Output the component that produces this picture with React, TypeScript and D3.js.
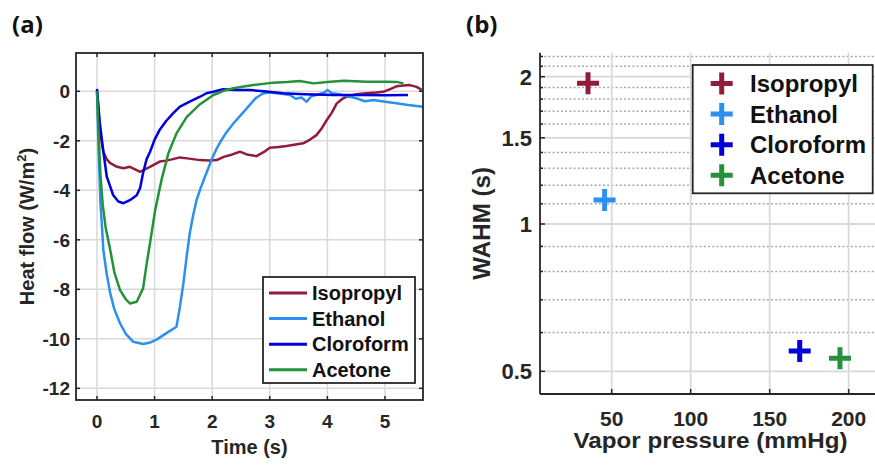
import React from "react";
import * as d3 from "d3";

// ---------- Panel (a) data ----------
const seriesNames = ["Isopropyl", "Ethanol", "Cloroform", "Acetone"];
const seriesColors = ["#8f1d3a", "#2b90f0", "#0000dd", "#23923a"];

const isoT = [0, 0.05, 0.11, 0.17, 0.23, 0.35, 0.46, 0.57, 0.66, 0.75, 0.83, 0.92, 1.0, 1.09, 1.2, 1.3, 1.44, 1.6, 1.79, 1.95, 2.08, 2.2, 2.35, 2.48, 2.6, 2.77, 2.9, 3.0, 3.15, 3.29, 3.45, 3.58, 3.7, 3.81, 3.9, 3.99, 4.08, 4.16, 4.25, 4.34, 4.5, 4.68, 4.85, 4.97, 5.1, 5.2, 5.32, 5.43, 5.55, 5.64];
const isoV = [0, -1.6, -2.44, -2.75, -2.9, -3.05, -3.11, -3.05, -3.15, -3.25, -3.15, -3.05, -2.95, -2.84, -2.8, -2.75, -2.67, -2.72, -2.78, -2.8, -2.78, -2.65, -2.55, -2.44, -2.55, -2.62, -2.45, -2.28, -2.25, -2.21, -2.15, -2.1, -1.95, -1.77, -1.5, -1.16, -0.85, -0.5, -0.32, -0.22, -0.12, -0.08, -0.05, -0.02, 0.1, 0.2, 0.23, 0.25, 0.18, 0.05];

const ethT = [0, 0.03, 0.06, 0.09, 0.11, 0.17, 0.23, 0.3, 0.4, 0.5, 0.63, 0.8, 0.92, 1.04, 1.2, 1.38, 1.44, 1.5, 1.55, 1.61, 1.67, 1.73, 1.8, 1.9, 2.0, 2.08, 2.14, 2.25, 2.37, 2.5, 2.6, 2.7, 2.77, 2.89, 3.0, 3.2, 3.35, 3.45, 3.55, 3.64, 3.72, 3.85, 3.95, 4.0, 4.08, 4.2, 4.35, 4.5, 4.65, 4.8, 5.0, 5.2, 5.4, 5.66];
const ethV = [0, -2.5, -4.5, -5.6, -6.41, -7.4, -8.16, -8.8, -9.37, -9.8, -10.12, -10.21, -10.15, -10.02, -9.78, -9.51, -8.7, -7.76, -6.8, -5.74, -5.0, -4.39, -3.9, -3.3, -2.7, -2.3, -2.05, -1.65, -1.29, -0.95, -0.69, -0.42, -0.25, -0.08, -0.05, -0.1, -0.15, -0.3, -0.25, -0.42, -0.2, -0.12, -0.05, 0.05, -0.08, -0.12, -0.2, -0.28, -0.4, -0.35, -0.42, -0.48, -0.55, -0.62];

const cloT = [0, 0.05, 0.11, 0.17, 0.28, 0.37, 0.46, 0.57, 0.69, 0.75, 0.8, 0.86, 0.92, 1.0, 1.09, 1.2, 1.32, 1.44, 1.61, 1.79, 1.9, 2.02, 2.19, 2.4, 2.66, 2.9, 3.23, 3.6, 4.1, 4.6, 5.0, 5.4];
const cloV = [0.1, -1.3, -2.44, -3.45, -4.19, -4.45, -4.52, -4.4, -4.2, -3.9, -3.3, -2.75, -2.45, -1.95, -1.55, -1.2, -0.89, -0.62, -0.42, -0.22, -0.08, -0.02, 0.08, 0.05, 0.05, 0.0, -0.08, -0.12, -0.15, -0.15, -0.16, -0.15];

const aceT = [0, 0.03, 0.06, 0.1, 0.15, 0.23, 0.3, 0.4, 0.5, 0.57, 0.69, 0.8, 0.86, 0.92, 1.01, 1.12, 1.24, 1.38, 1.56, 1.79, 2.02, 2.2, 2.37, 2.71, 3.06, 3.3, 3.52, 3.76, 4.0, 4.28, 4.68, 5.03, 5.2, 5.32];
const aceV = [0, -1.8, -3.4, -4.6, -5.5, -6.41, -7.3, -8.03, -8.4, -8.57, -8.5, -7.96, -7.0, -6.14, -4.8, -3.58, -2.5, -1.7, -1.03, -0.52, -0.15, 0.02, 0.12, 0.25, 0.35, 0.38, 0.42, 0.32, 0.38, 0.43, 0.39, 0.39, 0.38, 0.32];

const timeTicks = [0, 1, 2, 3, 4, 5];
const heatTicks = [0, -2, -4, -6, -8, -10, -12];

// ---------- Panel (b) data ----------
const vaporPressure = [35, 45.5, 169, 194.5];
const wahm = [1.94, 1.12, 0.55, 0.532];
const vaporTicks = [50, 100, 150, 200];
const wahmTicks = [0.5, 1, 1.5, 2];
const wahmMinor = [0.6, 0.7, 0.8, 0.9, 1.1, 1.2, 1.3, 1.4, 1.6, 1.7, 1.8, 1.9, 2.1, 2.2];

const FONT = "'Liberation Sans', Arial, Helvetica, sans-serif";
const TXT = "#262626";
const GRID = "#d9d9d9";

export default function App() {
  // Panel a scales
  const xA = d3.scaleLinear().domain([-0.3646, 5.66]).range([76, 423]);
  const yA = d3.scaleLinear().domain([1.547, -12.47]).range([53, 400]);
  const line = d3.line<[number, number]>().x((d) => xA(d[0])).y((d) => yA(d[1]));
  const zip = (t: number[], v: number[]) => t.map((x, i) => [x, v[i]] as [number, number]);
  const curves = [zip(isoT, isoV), zip(ethT, ethV), zip(cloT, cloV), zip(aceT, aceV)];
  const [ax0, ax1] = xA.range();
  const [ay0, ay1] = yA.range();

  // Panel b scales
  const xB = d3.scaleLinear().domain([4.6, 232.5]).range([540, 900]);
  const yB = d3.scaleLog().domain([2.239, 0.4494]).range([52.7, 394]);
  const bx0 = 540, bx1 = 875, by0 = 52.7, by1 = 394;

  const plus = (s: number) => `M${-s},0H${s}M0,${-s}V${s}`;

  return (
    <svg width={875} height={466} style={{ position: "absolute", left: 0, top: 0, background: "#fff" }} fontFamily={FONT}>
      <rect x={0} y={0} width={875} height={466} fill="#fff" />
      {/* ===== Panel (a) ===== */}
      <text x={12} y={33} fontFamily="'Open Sans', sans-serif" fontWeight={700} fontSize={24} fill="#111">(a)</text>
      <g>
        {timeTicks.map((t) => (
          <line key={"gx" + t} x1={xA(t)} x2={xA(t)} y1={ay0} y2={ay1} stroke={GRID} strokeWidth={1.5} />
        ))}
        {heatTicks.map((v) => (
          <line key={"gy" + v} x1={ax0} x2={ax1} y1={yA(v)} y2={yA(v)} stroke={GRID} strokeWidth={1.5} />
        ))}
        {curves.map((c, i) => (
          <path key={"c" + i} d={line(c) || ""} fill="none" stroke={seriesColors[i]} strokeWidth={2.5} strokeLinejoin="round" />
        ))}
        {/* ticks */}
        {timeTicks.map((t) => (
          <g key={"tx" + t}>
            <line x1={xA(t)} x2={xA(t)} y1={ay1} y2={ay1 - 4} stroke={TXT} strokeWidth={1.5} />
            <line x1={xA(t)} x2={xA(t)} y1={ay0} y2={ay0 + 4} stroke={TXT} strokeWidth={1.5} />
            <text x={xA(t)} y={428} textAnchor="middle" fontSize={19} fontWeight="bold" fill={TXT}>{t}</text>
          </g>
        ))}
        {heatTicks.map((v) => (
          <g key={"ty" + v}>
            <line x1={ax0} x2={ax0 + 4} y1={yA(v)} y2={yA(v)} stroke={TXT} strokeWidth={1.5} />
            <line x1={ax1} x2={ax1 - 4} y1={yA(v)} y2={yA(v)} stroke={TXT} strokeWidth={1.5} />
            <text x={70} y={yA(v) + 7} textAnchor="end" fontSize={19} fontWeight="bold" fill={TXT}>{v}</text>
          </g>
        ))}
        <rect x={ax0} y={ay0} width={ax1 - ax0} height={ay1 - ay0} fill="none" stroke={TXT} strokeWidth={1.8} />
        <text x={(ax0 + ax1) / 2} y={454} textAnchor="middle" fontSize={20} fontWeight="bold" fill={TXT}>Time (s)</text>
        <text transform={`translate(33.5,${(ay0 + ay1) / 2}) rotate(-90)`} textAnchor="middle" fontSize={20} fontWeight="bold" fill={TXT}>
          Heat flow (W/m<tspan fontSize={13} dy={-8}>2</tspan><tspan dy={8}>)</tspan>
        </text>
        {/* legend */}
        <rect x={263} y={277} width={152} height={106} fill="#fff" stroke={TXT} strokeWidth={1.8} />
        {seriesNames.map((n, i) => (
          <g key={"la" + i}>
            <line x1={269} x2={307} y1={293 + i * 25.6} y2={293 + i * 25.6} stroke={seriesColors[i]} strokeWidth={3} />
            <text x={312} y={293 + i * 25.6 + 7} fontSize={20} fontWeight="bold" fill="#111">{n}</text>
          </g>
        ))}
      </g>

      {/* ===== Panel (b) ===== */}
      <text x={466} y={33} fontFamily="'Open Sans', sans-serif" fontWeight={700} fontSize={24} fill="#111">(b)</text>
      <g>
        {wahmMinor.map((v) => (
          <line key={"mn" + v} x1={bx0} x2={bx1} y1={yB(v)} y2={yB(v)} stroke="#a9a9a9" strokeWidth={1.5} strokeDasharray="2,2.2" />
        ))}
        {vaporTicks.map((t) => (
          <line key={"vg" + t} x1={xB(t)} x2={xB(t)} y1={by0} y2={by1} stroke={GRID} strokeWidth={1.8} />
        ))}
        {wahmTicks.map((v) => (
          <line key={"wg" + v} x1={bx0} x2={bx1} y1={yB(v)} y2={yB(v)} stroke={GRID} strokeWidth={1.8} />
        ))}
        {vaporPressure.map((p, i) => (
          <path key={"pt" + i} d={plus(11)} transform={`translate(${xB(p)},${yB(wahm[i])})`} stroke={seriesColors[i]} strokeWidth={5} fill="none" />
        ))}
        {/* axes */}
        <line x1={bx0} x2={bx0} y1={by0} y2={by1} stroke={TXT} strokeWidth={1.8} />
        <line x1={bx0} x2={bx1} y1={by1} y2={by1} stroke={TXT} strokeWidth={1.8} />
        {vaporTicks.map((t) => (
          <g key={"vt" + t}>
            <line x1={xB(t)} x2={xB(t)} y1={by1} y2={by1 - 5} stroke={TXT} strokeWidth={1.5} />
            <text x={xB(t)} y={425.5} textAnchor="middle" fontSize={21} fontWeight="bold" fill={TXT}>{t}</text>
          </g>
        ))}
        {wahmTicks.map((v) => (
          <g key={"wt" + v}>
            <line x1={bx0} x2={bx0 + 5} y1={yB(v)} y2={yB(v)} stroke={TXT} strokeWidth={1.5} />
            <text x={532} y={yB(v) + 8} textAnchor="end" fontSize={22} fontWeight="bold" fill={TXT}>{v}</text>
          </g>
        ))}
        {wahmMinor.map((v) => (
          <line key={"wm" + v} x1={bx0} x2={bx0 + 3} y1={yB(v)} y2={yB(v)} stroke={TXT} strokeWidth={1.5} />
        ))}
        <text x={710.5} y={448} textAnchor="middle" fontSize={22} fontWeight="bold" fill={TXT} textLength={274} lengthAdjust="spacingAndGlyphs">Vapor pressure (mmHg)</text>
        <text transform={`translate(490,${(by0 + by1) / 2}) rotate(-90)`} textAnchor="middle" fontSize={23} fontWeight="bold" fill={TXT} textLength={113} lengthAdjust="spacingAndGlyphs">WAHM (s)</text>
        {/* legend */}
        <rect x={692.7} y={65} width={180} height={128.3} fill="#fff" stroke={TXT} strokeWidth={1.8} />
        {seriesNames.map((n, i) => (
          <g key={"lb" + i}>
            <path d={plus(11)} transform={`translate(721.7,${83.5 + i * 30.6})`} stroke={seriesColors[i]} strokeWidth={5} fill="none" />
            <text x={750} y={83.5 + i * 30.6 + 8.5} fontSize={24} fontWeight="bold" fill="#111">{n}</text>
          </g>
        ))}
      </g>
    </svg>
  );
}
